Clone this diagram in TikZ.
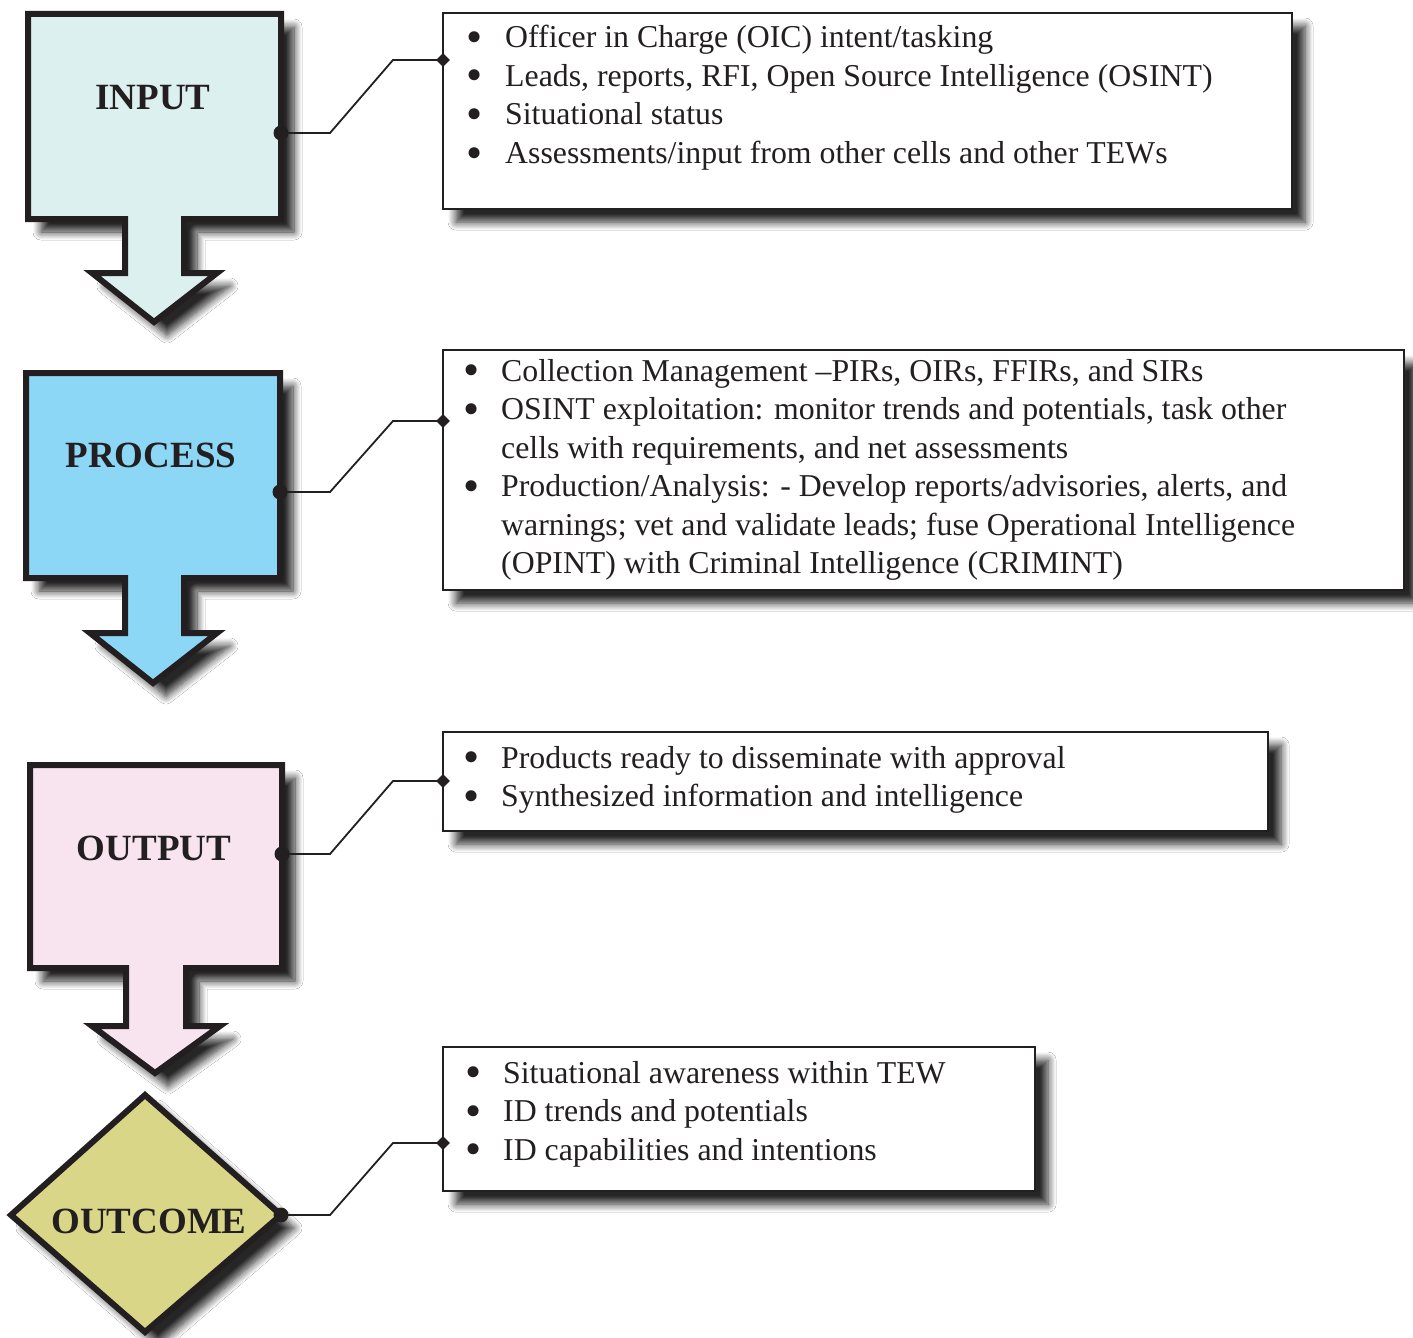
\documentclass[tikz,border=0pt]{standalone}
\usepackage{fontspec}
\usepackage{graphicx}
\setmainfont{Liberation Serif}
\usetikzlibrary{shadows.blur,shapes.geometric}

\definecolor{ink}{HTML}{231F20}
\definecolor{inputfill}{HTML}{DDF0F0}
\definecolor{processfill}{HTML}{8CD7F6}
\definecolor{outputfill}{HTML}{F8E4EF}
\definecolor{outcomefill}{HTML}{D9D688}

% enlarged list bullet, kept on the x-height centre
\newcommand{\listbullet}{\smash{\raisebox{-4.5pt}{\scalebox{1.45}{\textbullet}}}}

\begin{document}
\begin{tikzpicture}[x=1pt,y=-1pt,
  softshadow/.style={blur shadow={shadow xshift=13pt, shadow yshift=-13pt,
      shadow blur radius=8pt, shadow blur steps=10, shadow opacity=85}},
  stageshape/.style={draw=ink, line width=6pt, line join=miter, softshadow},
  stagetitle/.style={text=ink, font=\fontsize{37}{40}\selectfont\bfseries, inner sep=0pt},
  listbox/.style={draw=ink, line width=2.2pt, fill=white, anchor=north west,
      inner sep=0pt, softshadow},
  listtext/.style={text=ink, font=\fontsize{31.8}{38.5}\selectfont, inner sep=0pt, anchor=base west},
  link/.style={draw=ink, line width=1.8pt, line join=miter},
  startdot/.style={circle, fill=ink, minimum size=15pt, inner sep=0pt},
  enddot/.style={diamond, fill=ink, minimum size=14pt, inner sep=0pt},
]
\useasboundingbox (0,0) rectangle (1413,1338);
\fill[white] (0,0) rectangle (1413,1338);

% ---- stage shapes (box with a downward arrow) ----
\path[stageshape, fill=inputfill]
  (28,14) -- (281,14) -- (281,219) -- (184,219) -- (184,273) -- (217,273)
  -- (154,322) -- (92,273) -- (125,273) -- (125,219) -- (28,219) -- cycle;
\path[stageshape, fill=processfill]
  (26,373) -- (280,373) -- (280,578) -- (184,578) -- (184,633) -- (217,633)
  -- (153,683) -- (90,633) -- (125,633) -- (125,578) -- (26,578) -- cycle;
\path[stageshape, fill=outputfill]
  (30,765) -- (282,765) -- (282,968) -- (186,968) -- (186,1026) -- (220,1026)
  -- (155,1073) -- (92,1026) -- (126,1026) -- (126,968) -- (30,968) -- cycle;
\path[stageshape, fill=outcomefill]
  (145,1095) -- (281,1215) -- (145,1332) -- (11,1215) -- cycle;

\node[stagetitle] (input)   at (153,98)   {INPUT};
\node[stagetitle] (process) at (151,455)  {PROCESS};
\node[stagetitle] (output)  at (154,848)  {OUTPUT};
\node[stagetitle] (outcome) at (149,1221) {OUTCOME};

% ---- text boxes ----
\node[listbox, minimum width=849pt, minimum height=196pt] (list1) at (442,12) {};
\node[listbox, minimum width=961pt, minimum height=240pt] (list2) at (442,349) {};
\node[listbox, minimum width=825pt, minimum height=99pt]  (list3) at (442,731) {};
\node[listbox, minimum width=592pt, minimum height=144pt] (list4) at (442,1046) {};

\node[listtext] (list1-text) at (466,48) {%
  \begin{tabular}[t]{@{}p{39pt}@{}l@{}}
  \listbullet & Officer in Charge (OIC) intent/tasking\\
  \listbullet & Leads, reports, RFI, Open Source Intelligence (OSINT)\\
  \listbullet & Situational status\\
  \listbullet & Assessments/input from other cells and other TEWs
  \end{tabular}};
\node[listtext] (list2-text) at (463,381) {%
  \begin{tabular}[t]{@{}p{38pt}@{}l@{}}
  \listbullet & Collection Management –PIRs, OIRs, FFIRs, and SIRs\\
  \listbullet & OSINT exploitation: monitor trends and potentials, task other\\
              & cells with requirements, and net assessments\\
  \listbullet & Production/Analysis: - Develop reports/advisories, alerts, and\\
              & warnings; vet and validate leads; fuse Operational Intelligence\\
              & (OPINT) with Criminal Intelligence (CRIMINT)
  \end{tabular}};
\node[listtext] (list3-text) at (463,768) {%
  \begin{tabular}[t]{@{}p{38pt}@{}l@{}}
  \listbullet & Products ready to disseminate with approval\\
  \listbullet & Synthesized information and intelligence
  \end{tabular}};
\node[listtext] (list4-text) at (465,1083) {%
  \begin{tabular}[t]{@{}p{38pt}@{}l@{}}
  \listbullet & Situational awareness within TEW\\
  \listbullet & ID trends and potentials\\
  \listbullet & ID capabilities and intentions
  \end{tabular}};

% ---- connector ports ----
\coordinate (input-port)   at (281,133);
\coordinate (process-port) at (280,492);
\coordinate (output-port)  at (282,854);
\coordinate (outcome-port) at (281,1215);
\coordinate (list1-port) at (443,60);
\coordinate (list2-port) at (443,421);
\coordinate (list3-port) at (443,781);
\coordinate (list4-port) at (443,1143);

% ---- connectors ----
\draw[link] (input-port) -- ++(49,0) -- ([xshift=-50pt]list1-port) -- (list1-port);
\draw[link] (process-port) -- ++(50,0) -- ([xshift=-50pt]list2-port) -- (list2-port);
\draw[link] (output-port) -- ++(48,0) -- ([xshift=-50pt]list3-port) -- (list3-port);
\draw[link] (outcome-port) -- ++(49,0) -- ([xshift=-50pt]list4-port) -- (list4-port);

\foreach \p in {input,process,output,outcome}
  \node[startdot] (\p-dot) at (\p-port) {};
\foreach \p in {list1,list2,list3,list4}
  \node[enddot] (\p-dot) at (\p-port) {};
\end{tikzpicture}
\end{document}
